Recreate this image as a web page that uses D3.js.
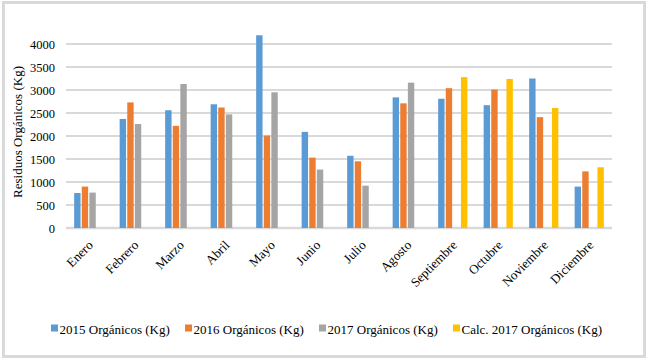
<!DOCTYPE html>
<html>
<head>
<meta charset="utf-8">
<script src="https://cdn.jsdelivr.net/npm/d3@7/dist/d3.min.js"></script>
<style>
  html, body { margin: 0; padding: 0; background: #fff; }
  svg { display: block; }
  svg text { font-family: "Liberation Serif", "Times New Roman", serif !important; fill: #000; }
</style>
</head>
<body>
<svg id="chart" width="650" height="362"></svg>
<script>
const months = ["Enero","Febrero","Marzo","Abril","Mayo","Junio","Julio","Agosto","Septiembre","Octubre","Noviembre","Diciembre"];
const seriesNames = ["2015 Orgánicos (Kg)","2016 Orgánicos (Kg)","2017 Orgánicos (Kg)","Calc. 2017 Orgánicos (Kg)"];
const seriesColors = ["#5B9BD5","#ED7D31","#A5A5A5","#FFC000"];
const values2015 = [760, 2370, 2560, 2690, 4190, 2090, 1570, 2840, 2810, 2670, 3250, 900];
const values2016 = [900, 2730, 2220, 2620, 2010, 1530, 1450, 2710, 3040, 3010, 2410, 1230];
const values2017 = [770, 2260, 3130, 2470, 2950, 1270, 920, 3160, null, null, null, null];
const valuesCalc2017 = [null, null, null, null, null, null, null, null, 3280, 3240, 2610, 1320];
const yTicks = [0, 500, 1000, 1500, 2000, 2500, 3000, 3500, 4000];
const yTitle = "Residuos Orgánicos (Kg)";

const allSeries = [values2015, values2016, values2017, valuesCalc2017];

const svg = d3.select("#chart");
const plot = { left: 66, right: 612, top: 44, bottom: 228 };

// outer border
svg.append("rect")
  .attr("x", 3.5).attr("y", 2.5).attr("width", 641).attr("height", 354)
  .attr("fill", "#fff").attr("stroke", "#D9D9D9").attr("stroke-width", 3);

const x = d3.scaleBand().domain(months).range([plot.left, plot.right])
  .paddingInner(0.332).paddingOuter(0.166);
const xs = d3.scaleBand().domain(d3.range(4)).range([0, x.bandwidth()]);
const y = d3.scaleLinear().domain([0, 4000]).range([plot.bottom, plot.top]);

// gridlines
svg.append("g").selectAll("line").data(yTicks).join("line")
  .attr("x1", plot.left).attr("x2", plot.right)
  .attr("y1", d => y(d)).attr("y2", d => y(d))
  .attr("stroke", "#D9D9D9").attr("stroke-width", d => d === 0 ? 2.5 : 2);

// y axis labels
const yAxis = d3.axisLeft(y).tickValues(yTicks).tickFormat(d3.format("d")).tickSize(0).tickPadding(0);
const gy = svg.append("g").attr("transform", `translate(${plot.left - 11},0)`).call(yAxis);
gy.select(".domain").remove();
gy.attr("font-family", null);
gy.selectAll("text").style("font-size", "12.5px");

// bars
const groups = svg.append("g").selectAll("g").data(months).join("g")
  .attr("transform", d => `translate(${x(d)},0)`);
groups.selectAll("rect")
  .data((m, i) => allSeries.map((s, si) => ({ si, v: s[i] })).filter(d => d.v != null))
  .join("rect")
  .attr("x", d => xs(d.si) + 0.6)
  .attr("width", xs.bandwidth() - 1.2)
  .attr("y", d => y(d.v))
  .attr("height", d => y(0) - y(d.v))
  .attr("fill", d => seriesColors[d.si]);

// x axis labels
const xAxis = d3.axisBottom(x).tickSize(0).tickPadding(0);
const gx = svg.append("g").attr("transform", `translate(0,${plot.bottom})`).call(xAxis);
gx.select(".domain").remove();
gx.attr("font-family", null);
gx.selectAll("text")
  .style("font-size", "13px")
  .attr("text-anchor", "end")
  .attr("dy", 0).attr("y", 0)
  .attr("transform", "translate(5,18) rotate(-45)");

// y title
svg.append("text")
  .attr("transform", `translate(22,${(plot.top + plot.bottom) / 2 - 4}) rotate(-90)`)
  .attr("text-anchor", "middle").style("font-size", "13px")
  .text(yTitle);

// legend
const legendX = [51, 185, 319, 453];
const lg = svg.append("g").selectAll("g").data(seriesNames).join("g")
  .attr("transform", (d, i) => `translate(${legendX[i]},324)`);
lg.append("rect").attr("width", 7).attr("height", 7).attr("y", 0.5)
  .attr("fill", (d, i) => seriesColors[i]);
lg.append("text").attr("x", 8.5).attr("y", 9.5).style("font-size", "13px").text(d => d);
</script>
</body>
</html>
